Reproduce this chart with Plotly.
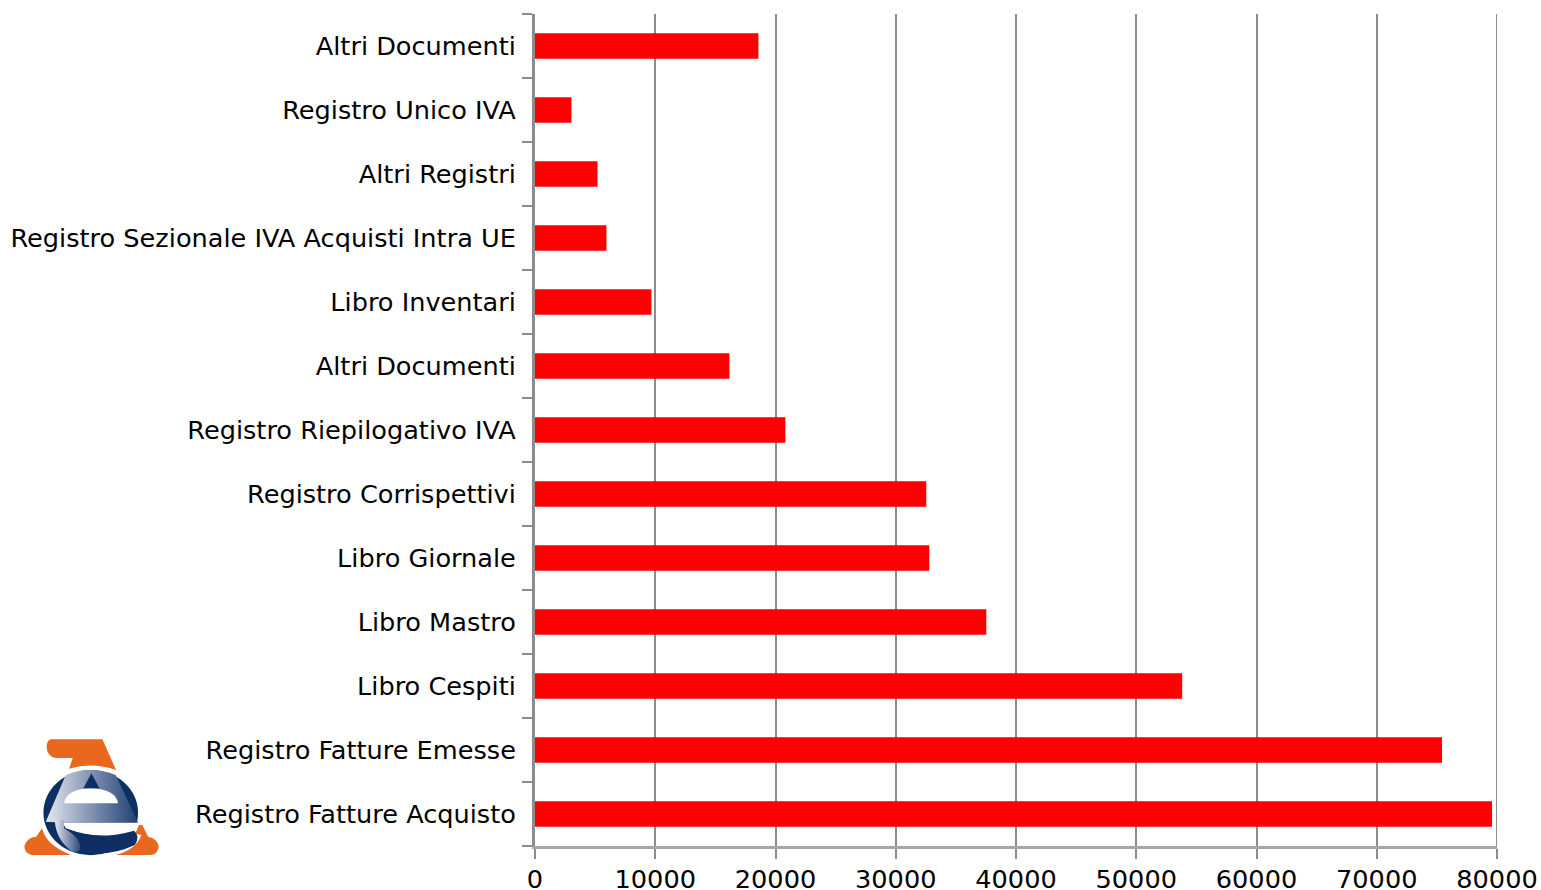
import base64
import plotly.graph_objects as go

categories = ["Registro Fatture Acquisto", "Registro Fatture Emesse", "Libro Cespiti", "Libro Mastro",
              "Libro Giornale", "Registro Corrispettivi", "Registro Riepilogativo IVA", "Altri Documenti",
              "Libro Inventari", "Registro Sezionale IVA Acquisti Intra UE", "Altri Registri",
              "Registro Unico IVA", "Altri Documenti"]
values = [79590, 75430, 53820, 37530, 32790, 32540, 20820, 16170, 9680, 5940, 5200, 3030, 18580]
x_ticks = [0, 10000, 20000, 30000, 40000, 50000, 60000, 70000, 80000]

positions = list(range(len(categories)))
boundaries = [p - 0.5 for p in positions] + [positions[-1] + 0.5]

logo_svg = """<svg xmlns='http://www.w3.org/2000/svg' viewBox='60 50 425 365' width='425' height='365' preserveAspectRatio='none'>
<defs><linearGradient id='g' x1='0' y1='0' x2='1' y2='0'>
<stop offset='0' stop-color='#e4e8f0'/><stop offset='0.45' stop-color='#8a99b8'/><stop offset='1' stop-color='#1f3f72'/>
</linearGradient></defs>
<path fill='#e8691e' d='M150,58 L305,58 L346,150 Q275,125 205,146 L216,114 L165,114 Q135,108 138,75 Q140,62 150,58 Z'/>
<path fill='#e8691e' d='M124,325 Q135,375 210,405 L92,405 Q70,398 71,378 Q78,352 106,350 Z'/>
<path fill='#e8691e' d='M360,315 L425,315 L442,350 Q470,355 474,380 Q470,405 448,405 L345,405 Q405,390 422,345 L370,332 Z'/>
<ellipse cx='270' cy='278' rx='150' ry='136' fill='#ffffff'/>
<ellipse cx='270' cy='278' rx='142' ry='128' fill='#0e2f63'/>
<path fill='url(#g)' d='M135,305 L195,165 Q270,135 345,165 L412,308 L190,308 Z'/>
<path fill='#ffffff' d='M190,250 Q195,208 270,205 Q345,208 352,250 Z'/>
<path fill='#0e2f63' d='M248,205 L272,160 L296,205 Z'/>
<path fill='#ffffff' d='M186,308 L412,308 L405,335 Q300,365 195,325 Z'/>
<path fill='url(#g)' d='M162,300 L190,300 L190,325 Q235,350 245,380 Q240,398 215,395 Q165,360 162,300 Z'/>
<path fill='#0e2f63' d='M192,325 Q285,365 400,332 Q420,350 402,375 Q325,412 235,395 Q250,360 192,325 Z'/>
</svg>"""
logo_src = "data:image/svg+xml;base64," + base64.b64encode(logo_svg.encode()).decode()

fig = go.Figure(go.Bar(x=values, y=positions, orientation="h", width=0.4,
                       marker=dict(color="#ff0000", line=dict(width=0))))

W, H = 1541, 890
L, R, T, B = 534.5, 44, 14, 44
pw, ph = W - L - R, H - T - B
logo_x0, logo_x1, logo_y0, logo_y1 = 20, 161.7, 736.7, 858.3

fig.update_layout(
    width=W, height=H, autosize=False,
    margin=dict(l=L, r=R, t=T, b=B, pad=0),
    paper_bgcolor="#ffffff", plot_bgcolor="#ffffff",
    font=dict(family="DejaVu Sans", size=25.6, color="#000000"),
    showlegend=False,
    xaxis=dict(range=[0, 80000], tickmode="array", tickvals=x_ticks, ticktext=[str(v) for v in x_ticks],
               automargin=False,
               showgrid=True, gridcolor="#8c8c8c", gridwidth=2, zeroline=False,
               ticks="outside", ticklen=10, tickwidth=2, tickcolor="#8c8c8c",
               showline=True, linecolor="#a6a6a6", linewidth=3,
               tickfont=dict(size=25.6), ticklabelstandoff=-2),
    yaxis=dict(range=[-0.5, 12.5], tickmode="array", tickvals=positions, ticktext=categories,
               automargin=False,
               showgrid=False, zeroline=False, ticks="", ticklabelstandoff=11,
               showline=True, linecolor="#8c8c8c", linewidth=3,
               minor=dict(tickmode="array", tickvals=boundaries, ticks="outside", ticklen=10,
                          tickwidth=2, tickcolor="#8c8c8c", showgrid=False),
               tickfont=dict(size=25.6)),
    shapes=[dict(type="line", xref="x", yref="paper", x0=x_ticks[-1], x1=x_ticks[-1], y0=0, y1=1,
                 line=dict(color="#8c8c8c", width=2), layer="below")],
    images=[dict(source=logo_src, xref="paper", yref="paper",
                 x=(logo_x0 - L) / pw, y=(H - B - logo_y0) / ph,
                 sizex=(logo_x1 - logo_x0) / pw, sizey=(logo_y1 - logo_y0) / ph,
                 xanchor="left", yanchor="top", sizing="stretch", layer="above")],
)
fig.write_html("out.html", config={"displayModeBar": False},
               post_script="document.body.style.margin='0';document.documentElement.style.overflow='hidden';")
